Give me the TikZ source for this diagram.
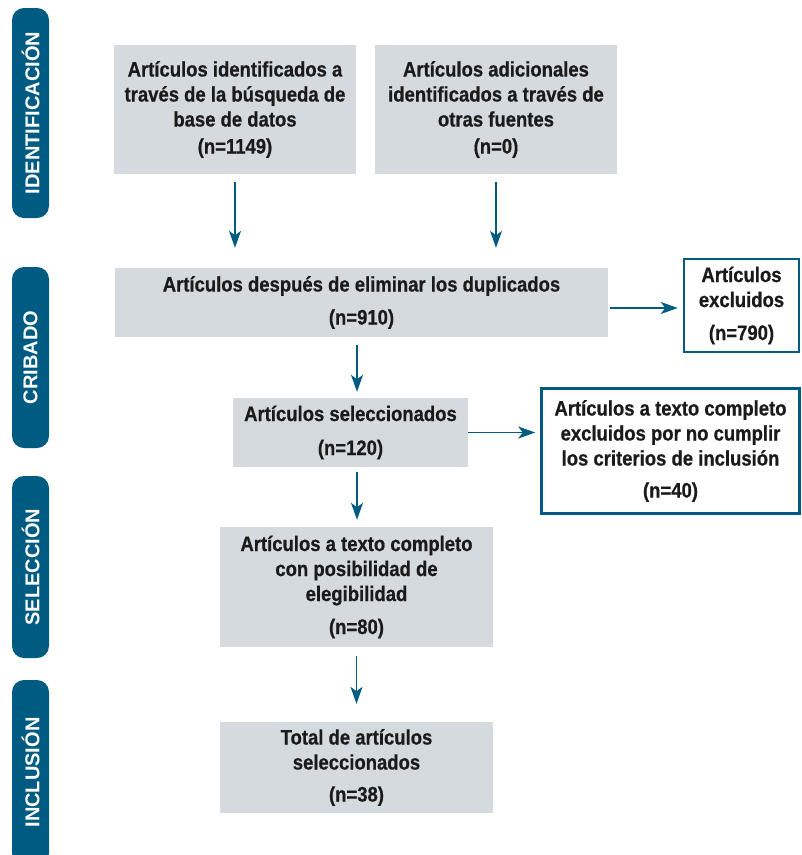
\documentclass[tikz,border=0pt]{standalone}
\usepackage{fontspec}
\setmainfont{Liberation Sans}[FakeStretch=0.88,BoldFeatures={FakeBold=0.6}]
\newfontfamily\tabfont{Liberation Sans}
\usetikzlibrary{arrows.meta,calc}
\definecolor{tabblue}{HTML}{005B82}
\definecolor{boxgray}{HTML}{D5DADF}
\definecolor{txt}{HTML}{1A1A1A}
\begin{document}
\begin{tikzpicture}[x=1pt,y=-1pt,
  tab/.style={fill=tabblue, rounded corners=12pt, rotate=90, minimum height=37pt, inner sep=0pt,
    text=white, font=\tabfont\fontsize{20}{24}\selectfont\bfseries},
  boxtext/.style={align=center, text=txt, inner sep=0pt, font=\fontsize{21}{25}\selectfont\bfseries},
  graybox/.style={boxtext, fill=boxgray},
  whitebox/.style={boxtext, draw=tabblue, line width=2.5pt, fill=white},
  arr/.style={draw=tabblue, line width=1.5pt, -{Stealth[length=17pt,width=12pt,inset=4.5pt]}}
]
\useasboundingbox (0,0) rectangle (802,855);
\clip (0,0) rectangle (802,855);

% side tabs
\node[tab, minimum width=210pt] (t1) at (30.5,113) {IDENTIFICACIÓN};
\node[tab, minimum width=181pt] (t2) at (30.5,357.5) {CRIBADO};
\node[tab, minimum width=182pt] (t3) at (30.5,567) {SELECCIÓN};
\node[tab, minimum width=185pt] (t4) at (30.5,772.5) {INCLUSIÓN};

% boxes
\node[graybox, minimum width=242pt, minimum height=129pt] (b1) at (235,109.5)
  {Artículos identificados a\\través de la búsqueda de\\base de datos\\[2pt](n=1149)};
\node[graybox, minimum width=242pt, minimum height=129pt] (b2) at (496,109.5)
  {Artículos adicionales\\identificados a través de\\otras fuentes\\[2pt](n=0)};
\node[graybox, minimum width=493pt, minimum height=69pt] (b3) at (361.5,302.5)
  {Artículos después de eliminar los duplicados\\[8pt](n=910)};
\node[whitebox, minimum width=115pt, minimum height=93pt] (e1) at (741.5,305.5)
  {Artículos\\excluidos\\[8pt](n=790)};
\node[graybox, minimum width=235pt, minimum height=69pt] (b4) at (350.5,432.5)
  {Artículos seleccionados\\[9pt](n=120)};
\node[whitebox, minimum width=258pt, minimum height=125pt] (e2) at (670.5,451)
  {Artículos a texto completo\\excluidos por no cumplir\\los criterios de inclusión\\[7pt](n=40)};
\node[graybox, minimum width=273pt, minimum height=120pt] (b5) at (356.5,587)
  {Artículos a texto completo\\con posibilidad de\\elegibilidad\\[8pt](n=80)};
\node[graybox, minimum width=273pt, minimum height=91pt] (b6) at (356.5,767.5)
  {Total de artículos\\seleccionados\\[7pt](n=38)};

% connectors
\draw[arr, shorten <=8pt, shorten >=20pt] (b1.south) -- (b1.south |- b3.north);
\draw[arr, shorten <=8pt, shorten >=20pt] (b2.south) -- (b2.south |- b3.north);
\draw[arr, shorten <=2pt, shorten >=5pt] (b3.east |- 0,308) -- (e1.west |- 0,308);
\draw[arr, shorten <=8pt, shorten >=6pt] (b3.south -| 357,0) -- (b4.north -| 357,0);
\draw[arr, shorten >=5pt] (b4.east) -- (e2.west |- b4.east);
\draw[arr, shorten <=5pt, shorten >=7pt] (b4.south -| 357,0) -- (b5.north -| 357,0);
\draw[arr, shorten <=9pt, shorten >=18pt] (b5.south) -- (b6.north);
\end{tikzpicture}
\end{document}
